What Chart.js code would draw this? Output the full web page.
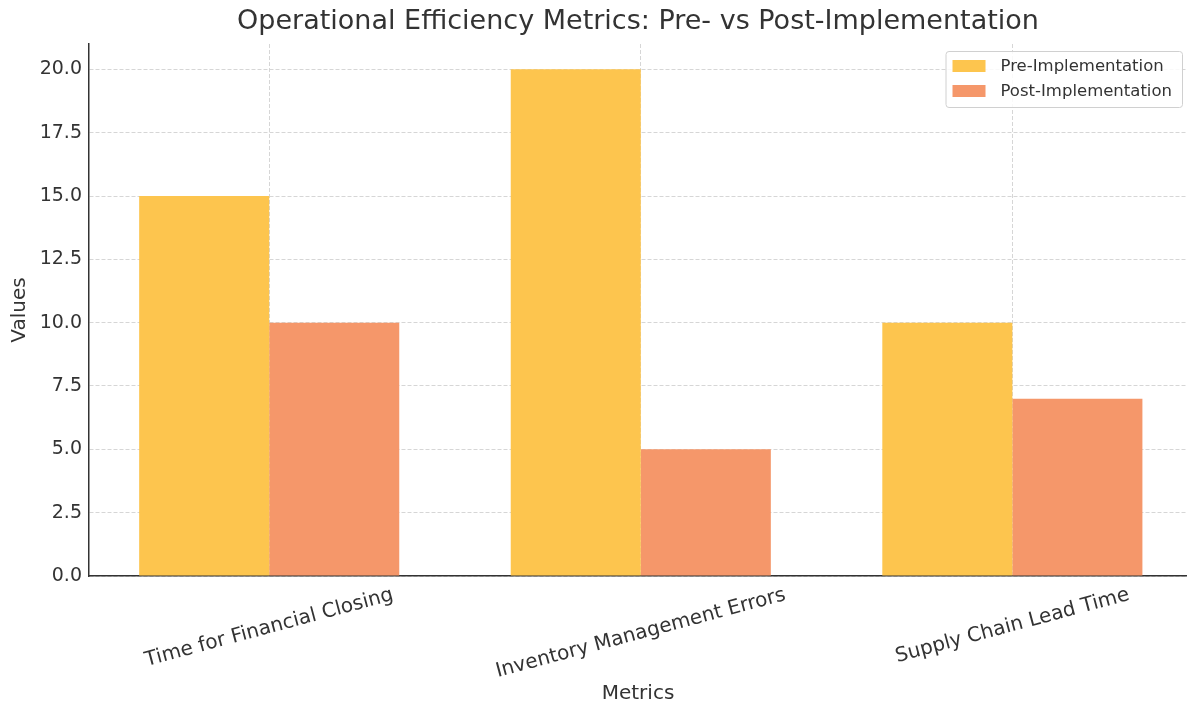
<!DOCTYPE html>
<html>
<head>
<meta charset="utf-8">
<title>Operational Efficiency Metrics</title>
<script src="https://cdn.jsdelivr.net/npm/chart.js@4/dist/chart.umd.min.js"></script>
<style>
  html, body { margin: 0; padding: 0; background: #fff; }
  #wrap { width: 1187px; height: 704px; }
</style>
</head>
<body>
<div id="wrap"><canvas id="chart"></canvas></div>
<script>
// Data
const categories = ['Time for Financial Closing', 'Inventory Management Errors', 'Supply Chain Lead Time'];
const seriesNames = ['Pre-Implementation', 'Post-Implementation'];
const preValues = [15, 20, 10];
const postValues = [10, 5, 7];
const yTickValues = [0, 2.5, 5, 7.5, 10, 12.5, 15, 17.5, 20];

const FONT = "'DejaVu Sans', sans-serif";
const TEXT = '#333333';
const preColor = '#FDC54E';
const postColor = '#F5976A';

// Rotated x labels centred on each tick, like the original
const xLabelPlugin = {
  id: 'xLabels',
  afterDraw(chart) {
    const ctx = chart.ctx;
    const xScale = chart.scales.x;
    const top = chart.chartArea.bottom + 9;
    const angle = 15 * Math.PI / 180;
    ctx.save();
    ctx.font = '20px ' + FONT;
    ctx.fillStyle = TEXT;
    ctx.textAlign = 'center';
    ctx.textBaseline = 'middle';
    categories.forEach((label, i) => {
      const w = ctx.measureText(label).width;
      const h = 20;
      const boxH = w * Math.sin(angle) + h * Math.cos(angle);
      const cx = xScale.getPixelForValue(i);
      const cy = top + boxH / 2;
      ctx.save();
      ctx.translate(cx, cy);
      ctx.rotate(-angle);
      ctx.fillText(label, 0, 0);
      ctx.restore();
    });
    ctx.restore();
  }
};

// Legend box inside the plot, top right
const legendPlugin = {
  id: 'boxLegend',
  afterDraw(chart) {
    const ctx = chart.ctx;
    ctx.save();
    ctx.font = '16.5px ' + FONT;
    const textW = Math.max(...seriesNames.map(n => ctx.measureText(n).width));
    const right = chart.width - 5;
    const left = right - (7 + 33 + 15 + textW + 10);
    const top = 51;
    const bottom = 107;
    ctx.fillStyle = 'rgba(255,255,255,0.85)';
    ctx.strokeStyle = '#d0d0d0';
    ctx.lineWidth = 1;
    ctx.beginPath();
    ctx.roundRect(left + 0.5, top + 0.5, right - left, bottom - top, 3);
    ctx.fill();
    ctx.stroke();
    const colors = [preColor, postColor];
    seriesNames.forEach((name, i) => {
      const y = 66 + i * 25;
      ctx.fillStyle = colors[i];
      ctx.fillRect(left + 7, y - 6, 33, 12);
      ctx.fillStyle = TEXT;
      ctx.textAlign = 'left';
      ctx.textBaseline = 'middle';
      ctx.fillText(name, left + 55, y + 1);
    });
    ctx.restore();
  }
};

const ctx = document.getElementById('chart').getContext('2d');
const chart = new Chart(ctx, {
  type: 'bar',
  data: {
    datasets: [{
      label: seriesNames[0],
      data: preValues.map((v, i) => ({ x: i, y: v })),
      backgroundColor: preColor,
      borderWidth: 0
    }, {
      label: seriesNames[1],
      data: postValues.map((v, i) => ({ x: i, y: v })),
      backgroundColor: postColor,
      borderWidth: 0
    }]
  },
  options: {
    responsive: true,
    maintainAspectRatio: false,
    animation: false,
    datasets: {
      bar: { categoryPercentage: 0.7, barPercentage: 1.0 }
    },
    layout: { padding: { left: 0, right: 0, top: 0, bottom: 0 } },
    plugins: {
      legend: { display: false },
      tooltip: { enabled: false },
      title: {
        display: true,
        fullSize: false,
        text: 'Operational Efficiency Metrics: Pre- vs Post-Implementation',
        color: TEXT,
        font: { family: FONT, size: 27, weight: 'normal', lineHeight: 1.2 },
        padding: { top: 6, bottom: 5.6 }
      }
    },
    scales: {
      x: {
        type: 'linear',
        min: -0.485,
        max: 2.47,
        offset: false,
        afterBuildTicks(scale) {
          scale.ticks = categories.map((c, i) => ({ value: i }));
        },
        afterFit(scale) { scale.height = 128; },
        ticks: { display: false },
        grid: {
          offset: false,
          color: '#cccccc',
          lineWidth: 0.8,
          drawTicks: false
        },
        border: { display: true, color: '#333333', width: 1.5, dash: [4, 2] },
        title: {
          display: true,
          text: 'Metrics',
          color: TEXT,
          font: { family: FONT, size: 20, lineHeight: 1 },
          padding: { top: 0, bottom: 0 }
        }
      },
      y: {
        min: 0,
        max: 21,
        afterBuildTicks(scale) {
          scale.ticks = yTickValues.map(v => ({ value: v }));
        },
        afterFit(scale) { scale.width = 89; },
        ticks: {
          color: TEXT,
          font: { family: FONT, size: 19 },
          padding: 7,
          callback: v => Number(v).toFixed(1)
        },
        grid: {
          color: '#cccccc',
          lineWidth: 0.8,
          drawTicks: false
        },
        border: { display: true, color: '#333333', width: 1.5, dash: [4, 2] },
        title: {
          display: true,
          text: 'Values',
          color: TEXT,
          font: { family: FONT, size: 20, lineHeight: 1.2 },
          padding: { top: 8, bottom: 0 }
        }
      }
    }
  },
  plugins: [xLabelPlugin, legendPlugin]
});
</script>
</body>
</html>
